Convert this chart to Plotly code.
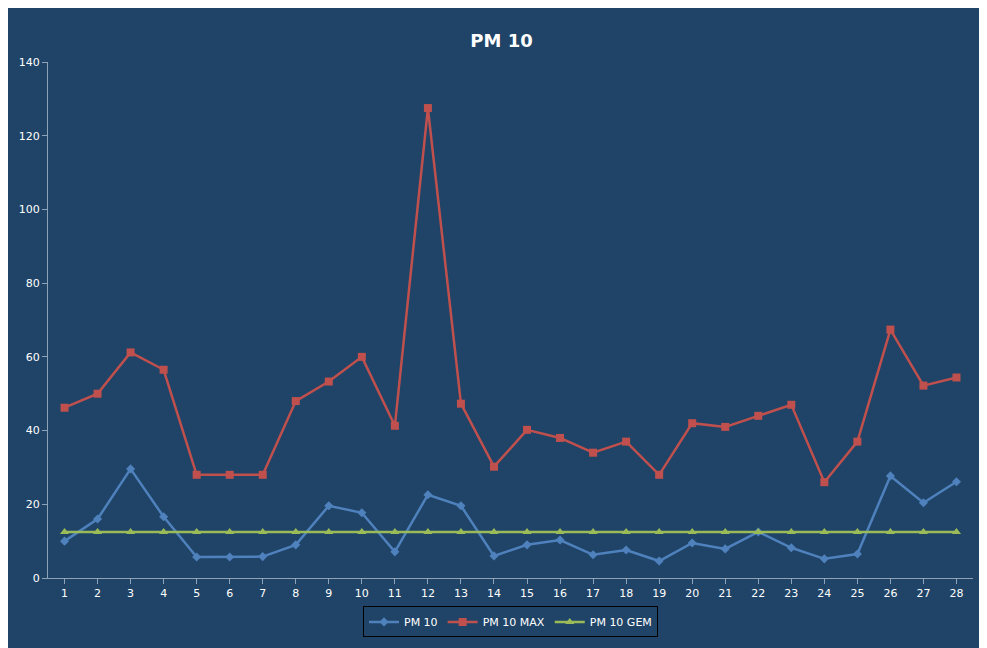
import plotly.graph_objects as go

days = list(range(1, 29))
pm10 = [10, 16, 29.6, 16.6, 5.7, 5.7, 5.8, 9, 19.6, 17.7, 7.1, 22.6, 19.6, 6,
        9, 10.3, 6.3, 7.6, 4.6, 9.5, 7.9, 12.5, 8.2, 5.2, 6.5, 27.7, 20.4, 26.1]
pm10_max = [46.2, 50, 61.2, 56.5, 28, 28, 28, 48, 53.3, 60, 41.3, 127.5, 47.3, 30.2,
            40.2, 38, 34, 37, 28, 42, 41, 44, 47, 26, 37, 67.4, 52.2, 54.4]
pm10_gem = [12.5] * 28

bg = "#1F4467"

fig = go.Figure()
fig.add_trace(go.Scatter(x=days, y=pm10, name="PM 10", mode="lines+markers",
                         line=dict(color="#4F81BD", width=2.5),
                         marker=dict(symbol="diamond", size=7)))
fig.add_trace(go.Scatter(x=days, y=pm10_max, name="PM 10 MAX", mode="lines+markers",
                         line=dict(color="#C0504D", width=2.5),
                         marker=dict(symbol="square", size=8)))
fig.add_trace(go.Scatter(x=days, y=pm10_gem, name="PM 10 GEM", mode="lines+markers",
                         line=dict(color="#9BBB59", width=2.5),
                         marker=dict(symbol="triangle-up", size=8)))

fig.update_layout(
    width=987, height=648,
    paper_bgcolor=bg, plot_bgcolor=bg,
    font=dict(family="DejaVu Sans", color="white", size=11),
    title=dict(text="<b>PM 10</b>", x=0.5, y=0.96, font=dict(size=18, color="white")),
    margin=dict(l=40, r=22, t=54, b=78),
    showlegend=True,
    legend=dict(orientation="h", x=0.5, xanchor="center", y=-0.055, yanchor="top",
                bordercolor="black", borderwidth=1, font=dict(size=11)),
)
fig.update_xaxes(range=[0.5, 28.5], tickvals=days, showgrid=False,
                 showline=True, linecolor="#8EA3B8", ticks="outside", tickcolor="#8EA3B8")
fig.update_yaxes(range=[0, 140], dtick=20, showgrid=False, zeroline=False,
                 showline=True, linecolor="#8EA3B8", ticks="outside", tickcolor="#8EA3B8")

fig.write_html("out.html")
